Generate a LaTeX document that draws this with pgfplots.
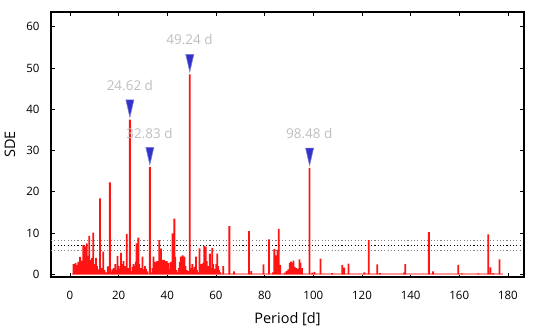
\documentclass[border=0pt]{standalone}
\usepackage{pgfplots}
\pgfplotsset{compat=1.18}
\usepackage{pgfplotstable}
\usepackage{fontspec}
\setmainfont{Open Sans}

\definecolor{peakblue}{RGB}{50,50,200}
\definecolor{peakedge}{RGB}{120,120,215}
\definecolor{lblgray}{RGB}{190,190,190}
\definecolor{spikered}{RGB}{255,20,20}

% periodogram spikes: period [d], SDE
\pgfplotstableread{
P SDE
1.5 2.5
1.9 2.0
2.3 2.7
2.7 1.5
3.0 2.2
3.4 3.0
3.8 1.2
4.1 4.2
4.5 2.5
4.9 3.3
5.2 1.8
5.5 7.1
5.8 3.9
6.2 6.8
6.5 2.4
6.9 7.5
7.3 4.5
7.6 2.0
7.9 9.3
8.3 3.5
8.7 1.5
9.1 4.0
9.6 10.1
10.0 2.5
10.4 0.8
10.7 4.0
11.1 2.0
11.6 1.2
12.3 18.4
12.8 1.5
13.3 0.6
13.7 5.5
14.2 1.0
14.8 0.5
15.5 1.9
16.0 0.8
16.4 22.3
16.9 0.6
17.4 1.2
18.0 1.5
18.6 2.5
19.1 1.0
19.5 4.5
20.0 2.0
20.5 1.3
21.0 5.2
21.5 2.5
22.0 3.2
22.4 1.0
22.8 2.0
23.3 9.8
23.8 1.5
24.62 37.5
25.2 0.8
25.7 1.8
26.1 2.5
26.6 2.0
27.0 3.0
27.4 7.5
27.8 2.5
28.1 8.9
28.5 2.5
28.9 1.0
29.3 1.5
29.8 4.3
30.3 1.2
30.8 2.0
31.2 1.3
31.7 0.7
32.83 26.0
33.4 0.5
33.9 1.5
34.3 4.3
34.7 2.5
35.1 3.0
35.5 2.8
35.9 3.2
36.3 1.5
36.7 8.3
37.0 2.5
37.4 6.2
37.8 3.5
38.2 1.8
38.6 3.5
39.0 3.2
39.4 1.5
39.8 3.2
40.2 2.0
40.6 2.8
41.0 1.2
41.5 3.0
42.1 9.9
42.5 3.5
42.9 13.5
43.3 4.2
43.7 1.0
44.2 0.5
44.7 1.5
45.1 3.0
45.5 4.3
45.9 3.0
46.3 4.6
46.7 3.5
47.1 4.3
47.5 2.0
48.0 1.0
48.5 0.8
49.24 48.5
49.8 1.5
50.3 2.5
50.8 1.2
51.3 1.8
51.8 4.3
52.2 1.0
52.7 0.5
53.2 6.3
53.6 1.5
54.0 2.5
54.4 1.2
54.8 2.8
55.2 6.9
55.5 2.0
55.8 6.7
56.2 3.2
56.6 1.5
57.0 2.0
57.5 5.0
58.0 1.5
58.5 6.4
58.9 2.5
59.3 1.0
59.7 1.3
60.1 2.5
60.5 5.0
60.9 2.0
61.3 1.0
61.7 0.5
63.0 2.0
65.5 11.7
67.4 0.7
73.6 10.5
74.5 0.8
79.5 2.4
81.8 8.5
83.4 0.5
84.0 6.1
84.6 4.6
85.0 3.0
85.3 5.9
85.8 11.0
86.4 2.3
88.3 0.4
89.0 0.8
89.7 1.2
90.3 2.8
90.8 3.1
91.3 2.8
91.9 3.3
92.4 1.8
92.9 1.5
93.5 1.4
94.3 3.6
94.7 2.8
95.3 1.5
98.48 25.8
99.6 0.4
100.5 0.6
103.0 3.8
107.7 0.3
111.9 2.2
112.7 1.6
114.5 2.6
121.0 0.5
122.8 8.3
126.3 2.4
127.4 0.3
137.3 0.4
137.8 2.5
147.5 10.2
149.2 0.7
159.6 2.3
161.0 0.2
167.8 0.2
171.9 9.7
172.8 1.7
174.0 0.3
176.5 3.6
}\spikes

\begin{document}
\begin{tikzpicture}
\begin{axis}[
    name=ax,
    scale only axis,
    width=473bp, height=265bp,
    xmin=-7.8, xmax=186.6,
    ymin=-0.65, ymax=63.6,
    xtick={0,20,...,180},
    ytick={0,10,...,60},
    tick align=inside,
    major tick length=4bp,
    axis line style={line width=1.1bp},
    tick style={black, line width=0.7bp},
    tick label style={font=\fontsize{11.5bp}{13bp}\selectfont},
    /pgf/number format/assume math mode=true,
    xticklabel style={yshift=-11bp},
    yticklabel style={xshift=-8bp},
    xlabel={Period [d]},
    ylabel={SDE},
    label style={font=\fontsize{14.5bp}{16bp}\selectfont},
    xlabel style={at={(axis description cs:0.5,-0.158)}, anchor=center},
    ylabel style={at={(axis description cs:-0.087,0.5)}, anchor=center},
]
% significance levels
\addplot[gray, line width=1bp, dash pattern=on 1.1bp off 2.2bp] coordinates {(-7.8,8.3) (186,8.3)};
\addplot[black, line width=1bp, dash pattern=on 1.1bp off 2.2bp] coordinates {(-7.8,7.0) (186,7.0)};
\addplot[gray, line width=1bp, dash pattern=on 1.1bp off 2.2bp] coordinates {(-7.8,5.7) (186,5.7)};
% baseline
\addplot[red!40, line width=1.4bp] coordinates {(1,0.1) (178,0.1)};
% spikes, drawn as thin filled bars
\addplot[ybar, bar width=1.8bp, bar shift=0pt, fill=spikered, draw=none, mark=none] table[x=P, y=SDE] {\spikes};
% peak markers
\addplot[only marks, mark=triangle*, mark size=4.6bp,
    mark options={yscale=-2.5, fill=peakblue, draw=peakedge, line width=0.6bp}]
    coordinates {(24.62,40.9) (32.83,29.4) (49.24,51.9) (98.48,29.2)};
% peak labels
\addplot[only marks, mark=none, point meta=explicit symbolic,
    nodes near coords,
    every node near coord/.append style={anchor=center, text=lblgray,
        font=\fontsize{13.5bp}{15bp}\selectfont}]
    coordinates {(24.62,45.9) [24.62 d] (32.7,34.2) [32.83 d] (49.1,57.0) [49.24 d] (98.3,34.2) [98.48 d]};
\end{axis}
\pgfresetboundingbox
\path ([shift={(-51bp,-51bp)}]ax.south west) rectangle ([shift={(11bp,12bp)}]ax.north east);
\end{tikzpicture}
\end{document}
